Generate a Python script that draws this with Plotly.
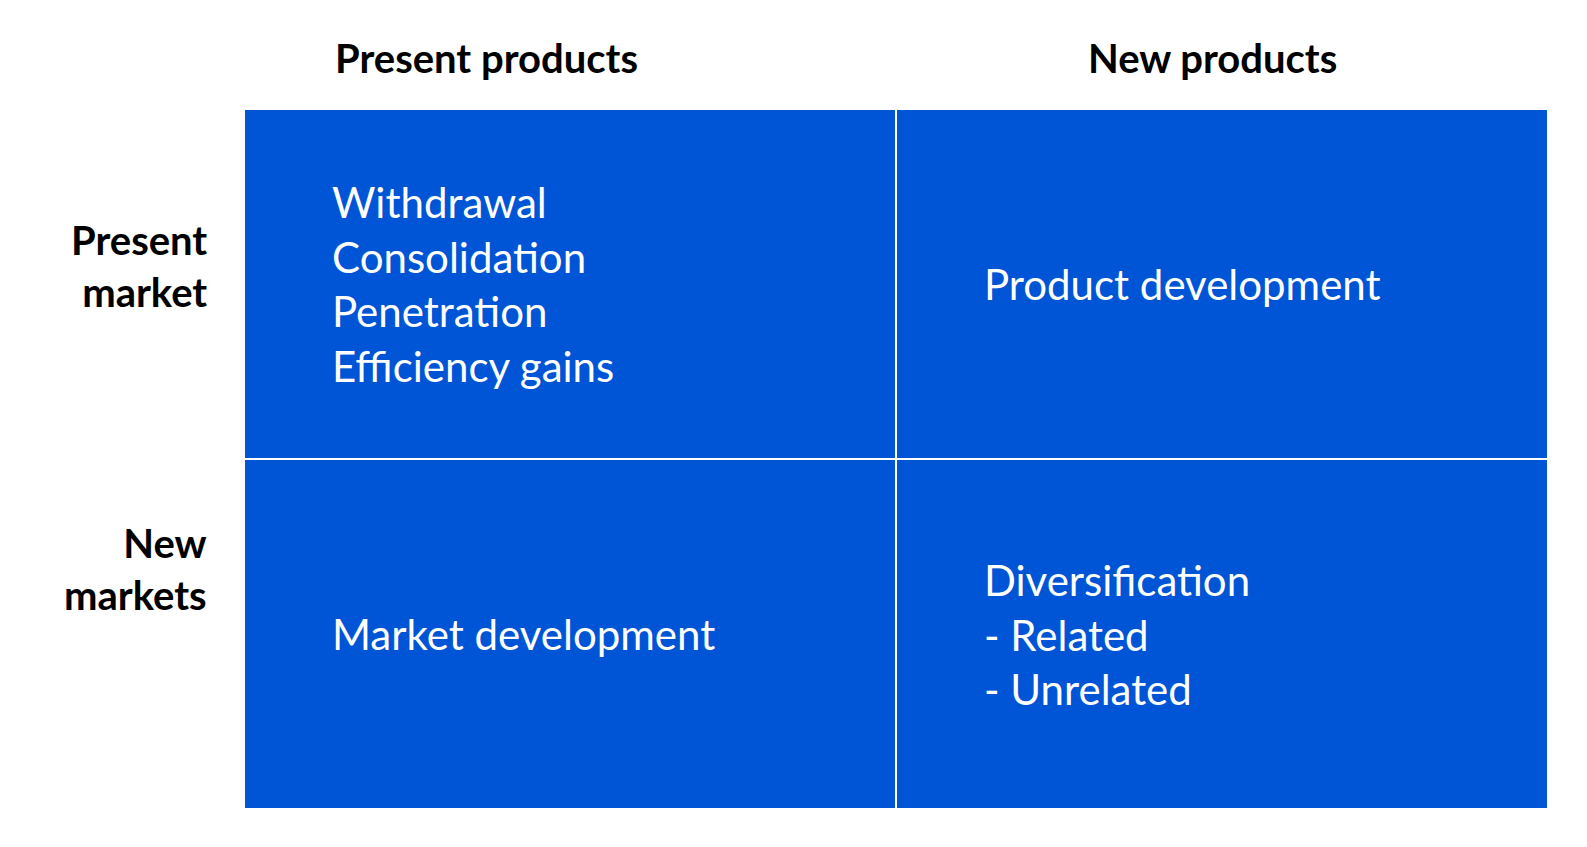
import plotly.graph_objects as go

columns = ["Present products", "New products"]
rows = ["Present<br>market", "New<br>markets"]
cell_text = [
    ["Withdrawal<br>Consolidation<br>Penetration<br>Efficiency gains", "Product development"],
    ["Market development", "Diversification<br>- Related<br>- Unrelated"],
]
z = [[1, 1], [1, 1]]

fig = go.Figure(go.Heatmap(
    x=columns, y=rows, z=z,
    colorscale=[[0, "#0055d6"], [1, "#0055d6"]],
    showscale=False, xgap=2, ygap=2, hoverinfo="skip",
))

for i, r in enumerate(rows):
    for j, c in enumerate(columns):
        fig.add_annotation(
            x=c, y=r, text=cell_text[i][j], showarrow=False,
            xanchor="left", align="left", xshift=-240,
            font=dict(family="Lato", size=42, color="white"),
        )

# headers
head_font = dict(family="Lato", size=40, color="black", weight="bold")
for c, dx in zip(columns, [-84, -10]):
    fig.add_annotation(x=c, y=1, yref="paper", yanchor="bottom", yshift=25,
                       text=c, showarrow=False, xshift=dx, font=head_font)
for r, dy in zip(rows, [18, 65]):
    fig.add_annotation(x=0, xref="paper", xanchor="right", xshift=-35, y=r, yshift=dy,
                       text=r, showarrow=False, align="right", font=head_font)

fig.update_xaxes(showticklabels=False, showgrid=False, zeroline=False, ticks="")
fig.update_yaxes(showticklabels=False, autorange="reversed", showgrid=False,
                 zeroline=False, ticks="")
fig.update_layout(
    width=1587, height=847,
    margin=dict(l=236, r=47, t=101, b=46),
    paper_bgcolor="white", plot_bgcolor="white",
)

fig.write_html("out.html")
